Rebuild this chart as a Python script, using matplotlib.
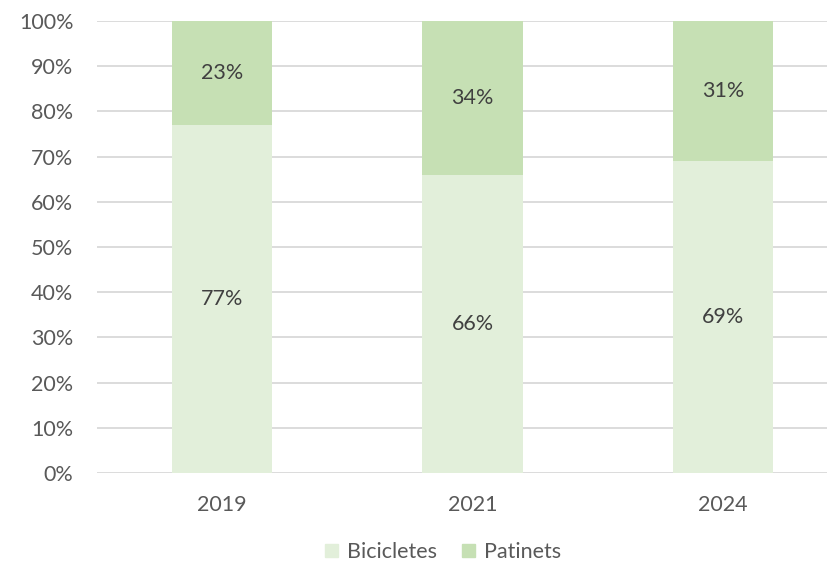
import matplotlib.pyplot as plt
from matplotlib.patches import Patch
from matplotlib.ticker import PercentFormatter

# ---------------------------------------------------------------- data
years = ["2019", "2021", "2024"]
bicicletes = [0.77, 0.66, 0.69]
patinets = [0.23, 0.34, 0.31]
labels_bic = ["77%", "66%", "69%"]
labels_pat = ["23%", "34%", "31%"]

C_BIC = "#E2EFDA"
C_PAT = "#C6E0B4"
TXT = "#595959"
LBL = "#404040"
FS = 15.5

plt.rcParams["font.family"] = ["Lato", "DejaVu Sans"]

W, H = 828, 563
fig = plt.figure(figsize=(W / 100, H / 100), dpi=100)
# axis runs past the right edge of the picture, as in the reference crop
x0, x1, y0, y1 = 97, 848, 473, 21
ax = fig.add_axes([x0 / W, (H - y0) / H, (x1 - x0) / W, (y0 - y1) / H])

x = list(range(len(years)))
ax.bar(x, bicicletes, width=0.4, color=C_BIC, zorder=2)
ax.bar(x, patinets, width=0.4, bottom=bicicletes, color=C_PAT, zorder=2)

for i in x:
    ax.text(i, bicicletes[i] / 2, labels_bic[i], ha="center", va="center",
            fontsize=FS, color=LBL, zorder=3)
    ax.text(i, bicicletes[i] + patinets[i] / 2, labels_pat[i], ha="center",
            va="center", fontsize=FS, color=LBL, zorder=3)

ax.set_xlim(-0.5, 2.5)
ax.set_ylim(0, 1)
ax.set_yticks([i / 10 for i in range(11)])
ax.yaxis.set_major_formatter(PercentFormatter(1.0, decimals=0))
ax.set_xticks(x)
ax.set_xticklabels(years)
ax.tick_params(axis="both", length=0, colors=TXT, labelsize=FS)
ax.tick_params(axis="y", pad=17)
ax.tick_params(axis="x", pad=16)
ax.grid(axis="y", color="#D9D9D9", linewidth=1.3, zorder=0)
for s in ax.spines.values():
    s.set_visible(False)

handles = [Patch(color=C_BIC, label="Bicicletes"),
           Patch(color=C_PAT, label="Patinets")]
fig.legend(handles=handles, loc="center", bbox_to_anchor=(443 / W, (H - 552) / H),
           ncol=2, frameon=False, fontsize=FS, labelcolor=TXT,
           handlelength=0.6, handleheight=0.6, handletextpad=0.4,
           columnspacing=1.2)

fig.savefig("out.png", dpi=100)
